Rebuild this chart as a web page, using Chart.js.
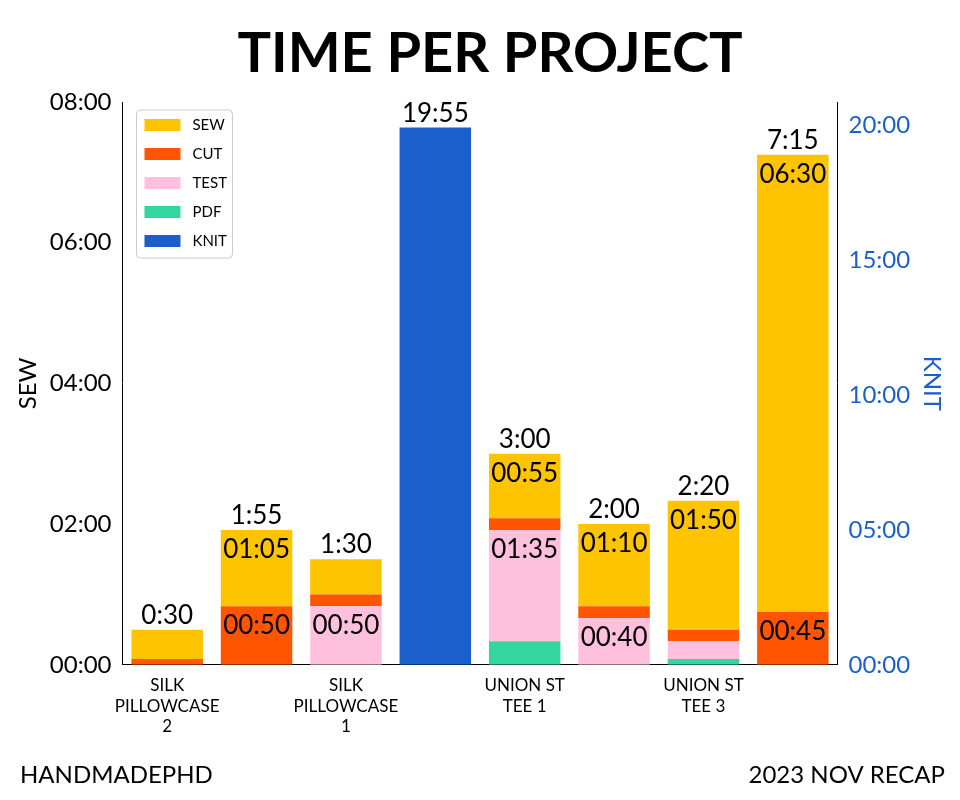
<!DOCTYPE html>
<html lang="en">
<head>
<meta charset="UTF-8">
<title>Time per project</title>
<script src="https://cdn.jsdelivr.net/npm/chart.js@4/dist/chart.umd.min.js"></script>
<style>
  html, body { margin: 0; background: #fff; }
  #wrap { width: 960px; height: 800px; }
</style>
</head>
<body>
<div id="wrap"><canvas id="chart" width="960" height="800"></canvas></div>
<script>
// values in minutes
const projects = [['SILK', 'PILLOWCASE', '2'], 'POUCHES', ['SILK', 'PILLOWCASE', '1'], ['STROLL', 'DUCHESS', 'HEATHER'],
  ['UNION ST', 'TEE 1'], ['UNION ST', 'TEE 2'], ['UNION ST', 'TEE 3'], ['SQUARE', 'PANTS']];
const pdf  = [0, 0, 0, null, 20, 0, 5, 0];
const test = [0, 0, 50, null, 95, 40, 15, 0];
const cut  = [5, 50, 10, null, 10, 10, 10, 45];
const sew  = [25, 65, 30, null, 55, 70, 110, 390];
const knit = [null, null, null, 1195, null, null, null, null];
const totals = ['0:30', '1:55', '1:30', '19:55', '3:00', '2:00', '2:20', '7:15'];
// segment labels shown inside bars ('' = none)
const sewLabels  = ['', '01:05', '', '', '00:55', '01:10', '01:50', '06:30'];
const cutLabels  = ['', '00:50', '', '', '', '', '', '00:45'];
const testLabels = ['', '', '00:50', '', '01:35', '00:40', '', ''];

const FONT = 'Lato, "DejaVu Sans", sans-serif';
const BLUE = '#1A5FCC';
const fmt = m => String(Math.floor(m / 60)).padStart(2, '0') + ':' + String(Math.round(m % 60)).padStart(2, '0');

const decorations = {
  id: 'decorations',
  afterDatasetsDraw(chart) {
    const ctx = chart.ctx;
    ctx.save();
    ctx.fillStyle = '#000';
    ctx.textAlign = 'center';
    ctx.textBaseline = 'alphabetic';
    ctx.font = '26px ' + FONT;
    // segment labels
    const segs = [[3, sewLabels], [2, cutLabels], [1, testLabels]];
    segs.forEach(([di, labels]) => {
      const meta = chart.getDatasetMeta(di);
      labels.forEach((t, i) => {
        if (!t) return;
        const el = meta.data[i];
        ctx.fillText(t, el.x, el.y + 28);
      });
    });
    // totals above bars
    totals.forEach((t, i) => {
      const el = i === 3 ? chart.getDatasetMeta(4).data[i] : chart.getDatasetMeta(3).data[i];
      ctx.fillText(t, el.x, el.y - 6);
    });
    // title and footer
    ctx.font = 'bold 56px ' + FONT;
    ctx.fillText('TIME PER PROJECT', 490, 72);
    ctx.font = '24px ' + FONT;
    ctx.textAlign = 'left';
    ctx.fillText('HANDMADEPHD', 20, 783);
    ctx.textAlign = 'right';
    ctx.fillText('2023 NOV RECAP', 945, 783);
    // legend
    const a = chart.chartArea;
    const lx = a.left + 14, ly = a.top + 8;
    ctx.fillStyle = '#fff';
    ctx.strokeStyle = '#ccc';
    ctx.lineWidth = 1;
    ctx.beginPath();
    ctx.roundRect(lx, ly, 96, 148, 4);
    ctx.fill(); ctx.stroke();
    const order = [3, 2, 1, 0, 4];
    ctx.font = '15px ' + FONT;
    ctx.textAlign = 'left';
    ctx.textBaseline = 'middle';
    order.forEach((di, k) => {
      const ds = chart.data.datasets[di];
      const y = ly + 15 + k * 29;
      ctx.fillStyle = ds.backgroundColor;
      ctx.fillRect(lx + 8, y - 6, 36, 12);
      ctx.fillStyle = '#000';
      ctx.fillText(ds.label, lx + 56, y);
    });
    ctx.restore();
  }
};

new Chart(document.getElementById('chart'), {
  type: 'bar',
  data: {
    labels: projects,
    datasets: [
      { label: 'PDF', data: pdf, backgroundColor: '#33D69F', yAxisID: 'y', stack: 'a' },
      { label: 'TEST', data: test, backgroundColor: '#FFC0DD', yAxisID: 'y', stack: 'a' },
      { label: 'CUT', data: cut, backgroundColor: '#FF5500', yAxisID: 'y', stack: 'a' },
      { label: 'SEW', data: sew, backgroundColor: '#FFC400', yAxisID: 'y', stack: 'a' },
      { label: 'KNIT', data: knit, backgroundColor: BLUE, yAxisID: 'y1', stack: 'a' }
    ]
  },
  options: {
    responsive: false,
    animation: false,
    layout: { padding: { top: 102, bottom: 60, left: 10, right: 10 } },
    datasets: { bar: { categoryPercentage: 1, barPercentage: 0.8 } },
    plugins: { legend: { display: false }, tooltip: { enabled: false } },
    scales: {
      x: {
        stacked: true,
        grid: { display: false, drawTicks: true },
        border: { color: '#000' },
        ticks: { color: '#000', font: { family: FONT, size: 17 }, maxRotation: 0 }
      },
      y: {
        stacked: true, min: 0, max: 480,
        grid: { display: false },
        border: { color: '#000' },
        title: { display: true, text: 'SEW', color: '#000', font: { family: FONT, size: 24 } },
        ticks: { stepSize: 120, callback: v => fmt(v), color: '#000', font: { family: FONT, size: 24 } }
      },
      y1: {
        stacked: true, position: 'right', min: 0, max: 1252,
        grid: { display: false },
        border: { color: '#000' },
        afterBuildTicks: s => { s.ticks = [0, 300, 600, 900, 1200].map(v => ({ value: v })); },
        title: { display: true, text: 'KNIT', color: BLUE, font: { family: FONT, size: 24 } },
        ticks: { callback: v => fmt(v), color: BLUE, font: { family: FONT, size: 24 } }
      }
    }
  },
  plugins: [decorations]
});
</script>
</body>
</html>
